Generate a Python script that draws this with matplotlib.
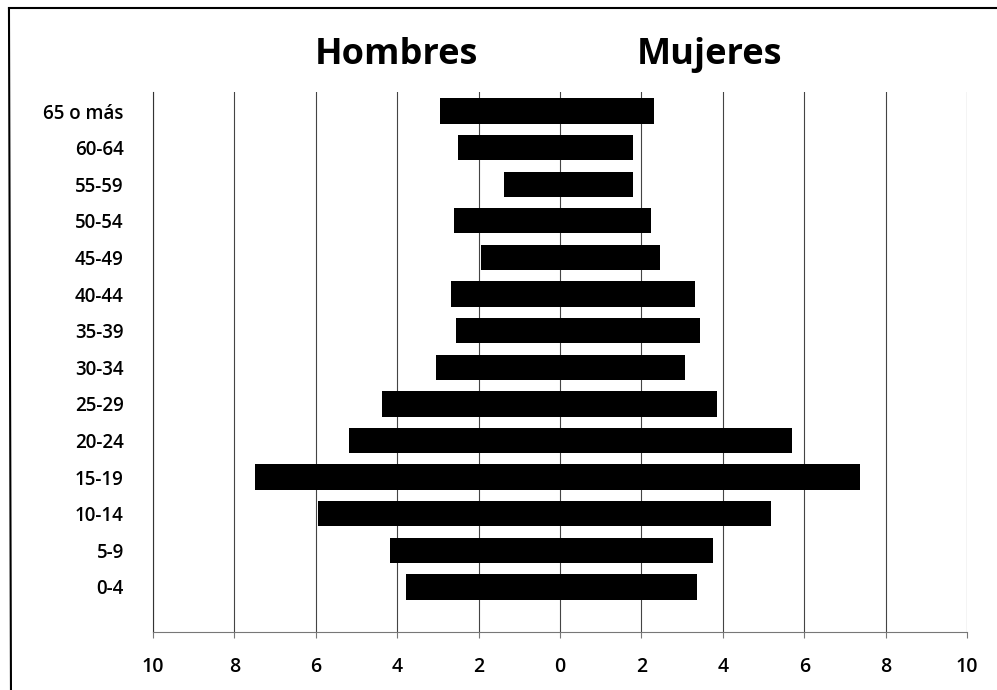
import matplotlib.pyplot as plt
from matplotlib.ticker import FixedLocator, FuncFormatter
from matplotlib.lines import Line2D

grupos = ["0-4", "5-9", "10-14", "15-19", "20-24", "25-29", "30-34",
          "35-39", "40-44", "45-49", "50-54", "55-59", "60-64", "65 o más"]
hombres = [3.78, 4.18, 5.95, 7.49, 5.18, 4.37, 3.05,
           2.55, 2.68, 1.94, 2.61, 1.38, 2.51, 2.95]
mujeres = [3.37, 3.76, 5.18, 7.37, 5.70, 3.86, 3.07,
           3.44, 3.32, 2.46, 2.24, 1.80, 1.78, 2.32]

plt.rcParams['font.family'] = ['Open Sans', 'DejaVu Sans']

fig = plt.figure(figsize=(9.97, 6.9), dpi=100)
ax = fig.add_axes([0.1535, 0.0841, 0.8165, 0.7826])

y = range(len(grupos))
ax.barh(y, [-v for v in hombres], height=0.69, color='black', zorder=3)
ax.barh(y, mujeres, height=0.69, color='black', zorder=3)

ax.set_xlim(-10, 10)
ax.set_ylim(-1.23, 13.52)
ax.xaxis.set_major_locator(FixedLocator(range(-10, 11, 2)))
ax.xaxis.set_major_formatter(FuncFormatter(lambda v, p: f"{abs(int(v))}"))
ax.set_yticks(list(y))
ax.set_yticklabels(grupos)

ax.grid(axis='x', color='#444444', linewidth=0.8, zorder=1)
for s in ['top', 'right']:
    ax.spines[s].set_visible(False)
ax.spines['left'].set_color('#333333')
ax.spines['bottom'].set_color('#777777')
ax.tick_params(axis='y', length=0, pad=21, labelsize=13.5)
ax.tick_params(axis='x', length=4, color='#777777', pad=14, labelsize=14)
for lbl in ax.get_xticklabels() + ax.get_yticklabels():
    lbl.set_fontweight('semibold')

fig.text(0.398, 0.921, "Hombres", ha='center', va='center',
         fontsize=26, fontweight='bold')
fig.text(0.712, 0.921, "Mujeres", ha='center', va='center',
         fontsize=26, fontweight='bold')

# marco de la imagen original (recortado a la derecha y abajo)
fig.add_artist(Line2D([0.009, 1.0], [0.988, 0.988], color='black', lw=1.5,
                      transform=fig.transFigure))
fig.add_artist(Line2D([0.009, 0.011], [0.988, 0.0], color='black', lw=1.5,
                      transform=fig.transFigure))

fig.savefig("out.png", dpi=100)
